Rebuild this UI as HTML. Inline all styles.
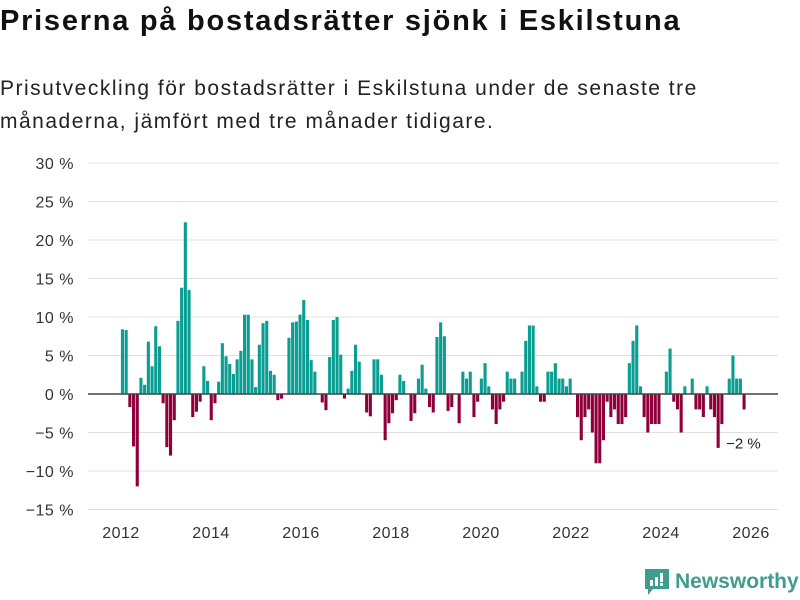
<!DOCTYPE html>
<html><head><meta charset="utf-8">
<style>
body{margin:0;background:#fff;font-family:"Liberation Sans","DejaVu Sans",sans-serif;}
#wrap{position:relative;width:800px;height:600px;overflow:hidden;}
h1{position:absolute;left:0;top:5px;margin:0;font-size:29px;font-weight:bold;color:#111;letter-spacing:1.75px;white-space:nowrap;}
#sub{position:absolute;left:0;top:72px;margin:0;font-size:21px;line-height:33px;color:#222;letter-spacing:1.5px;white-space:nowrap;}
svg{position:absolute;left:0;top:0;}
#logo{position:absolute;left:645px;top:569px;display:flex;align-items:center;}
#logo span{font-size:21px;font-weight:bold;color:#3f9c8f;margin-left:6px;}
</style></head><body>
<div id="wrap">
<h1>Priserna på bostadsrätter sjönk i Eskilstuna</h1>
<p id="sub">Prisutveckling för bostadsrätter i Eskilstuna under de senaste tre<br>månaderna, jämfört med tre månader tidigare.</p>
<svg id="chart" width="800" height="600"></svg>
<div id="logo">
<svg width="24" height="26" viewBox="0 0 24 26" style="position:static"><path d="M0 0H24V20H8L3 26V20H0Z" fill="#3f9c8f"/><rect x="5" y="11" width="3" height="6" fill="#fff"/><rect x="10" y="8" width="3" height="9" fill="#fff"/><rect x="15" y="4" width="3" height="9" fill="#fff"/><rect x="15" y="14" width="3" height="3" fill="#fff"/></svg>
<span>Newsworthy</span></div>
</div>
<script>
const values = [8.4,8.3,-1.7,-6.8,-12,2.1,1.2,6.8,3.6,8.8,6.2,-1.2,
-6.9,-8,-3.4,9.5,13.8,22.3,13.5,-3,-2.3,-1,3.6,1.7,
-3.4,-1.2,1.6,6.6,4.9,3.9,2.6,4.5,5.6,10.3,10.3,4.5,
0.9,6.4,9.2,9.5,3,2.5,-0.8,-0.6,0,7.3,9.3,9.4,
10.3,12.2,9.6,4.4,2.9,0,-1.1,-2.1,4.8,9.6,10,5.1,
-0.6,0.7,3,6.4,4.2,0,-2.4,-2.9,4.5,4.5,2.5,-6,
-3.8,-2.5,-0.8,2.5,1.7,0,-3.5,-2.5,2,3.8,0.7,-1.7,
-2.4,7.4,9.3,7.5,-2.2,-1.7,0,-3.8,2.9,2,2.9,-3,
-1,2,4,1,-2,-3.9,-2,-1,2.9,2,2,0,
2.9,6.9,8.9,8.9,1,-1,-1,2.9,2.9,4,2,2,
1,2,0,-3,-6,-3,-2,-5,-9,-9,-6,-1,
-3,-2,-3.9,-3.9,-3,4,6.9,8.9,1,-3,-5,-3.9,
-3.9,-3.9,0,2.9,5.9,-1,-2,-5,1,0,2,-2,
-2,-3,1,-2,-3,-7,-3.9,0,2,5,2,2,-2];
const yTicks = [30,25,20,15,10,5,0,-5,-10,-15];
const yTickLabels = ["30 %","25 %","20 %","15 %","10 %","5 %","0 %","−5 %","−10 %","−15 %"];
const xYears = [2012,2014,2016,2018,2020,2022,2024,2026];
const lastLabel = "−2 %";

const svg = document.getElementById('chart');
const NS = 'http://www.w3.org/2000/svg';
function y(v){return 394 - v*7.7;}
function xBar(i){return 122.5 + i*3.70;}
function xYear(yr){return 121 + (yr-2012)*45;}
function mk(tag, attrs){const e=document.createElementNS(NS,tag);for(const k in attrs)e.setAttribute(k,attrs[k]);svg.appendChild(e);return e;}

yTicks.forEach((t,i)=>{
  const l = mk('line',{x1:88,x2:778,y1:y(t),y2:y(t),stroke:'#e0e0e0','stroke-width':1});
  
  
  const tx = mk('text',{x:74,y:y(t)+6,'text-anchor':'end','font-size':16,fill:'#333','font-family':'Liberation Sans, sans-serif','letter-spacing':0.5});
  tx.textContent = yTickLabels[i];
  
  
});
xYears.forEach(yr=>{
  const tx = mk('text',{x:xYear(yr),y:538,'text-anchor':'middle','font-size':16,fill:'#333','font-family':'Liberation Sans, sans-serif','letter-spacing':0.5});
  tx.textContent = yr;
  
  
});
values.forEach((v,i)=>{
  if(v===0) return;
  const top = v>0 ? y(v) : y(0);
  const h = Math.abs(y(v)-y(0));
  const r = mk('rect',{x:xBar(i)-1.6,y:top,width:3.1,height:h,fill:v>0?'#0a9d92':'#8f003b'});
  
  
});
const zl = mk('line',{x1:88,x2:778,y1:y(0),y2:y(0),stroke:'#444','stroke-width':1.5});


const lv = values[values.length-1];
const lb = mk('text',{x:xBar(values.length-1)-18,y:y(lv)+39,'font-size':15,fill:'#222','font-family':'Liberation Sans, sans-serif'});
lb.textContent = lastLabel;


</script>
</body></html>
